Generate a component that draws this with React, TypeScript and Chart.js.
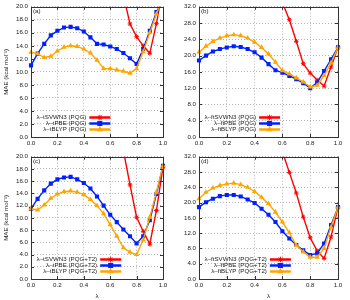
import React, { useEffect, useRef } from "react";
import { Chart, registerables } from "chart.js";

Chart.register(...registerables);

const FONT = "'Liberation Sans', Arial, sans-serif";
const FS = 6.2;

const lambdas = [0, 0.05, 0.1, 0.15, 0.2, 0.25, 0.3, 0.35, 0.4, 0.45, 0.5, 0.55, 0.6, 0.65, 0.7, 0.75, 0.8, 0.85, 0.9, 0.95, 1.0];
const xTicks = [0, 0.2, 0.4, 0.6, 0.8, 1.0];
const yTicks20 = [0, 2, 4, 6, 8, 10, 12, 14, 16, 18, 20];
const yTicks32 = [0, 4, 8, 12, 16, 20, 24, 28, 32];

// (a) PQG, tuned hybrids
const aSVWN3 = [null, null, null, null, null, null, null, null, null, null, null, null, null, 28.0, 21.8, 17.35, 15.4, 14.0, 12.85, 17.4, 23.0];
const aPBE = [11.0, 12.8, 14.3, 15.6, 16.3, 16.8, 16.9, 16.7, 16.2, 15.3, 14.3, 14.2, 13.9, 13.5, 12.9, 12.1, 11.2, 13.5, 16.3, 19.2, 21.0];
const aBLYP = [13.0, 12.8, 12.2, 12.4, 13.2, 13.8, 14.0, 13.9, 13.5, 12.9, 11.8, 10.5, 10.5, 10.3, 10.1, 9.8, 10.5, 13.1, 16.0, 18.9, 21.5];

// (b) PQG, fully tuned
const bSVWN3 = [null, null, null, null, null, null, null, null, null, null, null, 38.0, 33.0, 28.8, 23.5, 18.0, 15.7, 14.0, 12.5, 17.2, 22.1];
const bPBE = [18.8, 20.0, 21.0, 21.6, 22.0, 22.3, 22.1, 21.6, 20.8, 19.5, 17.9, 16.4, 15.8, 15.0, 14.2, 13.2, 12.0, 13.4, 16.2, 19.1, 22.0];
const bBLYP = [20.8, 22.3, 23.5, 24.3, 24.9, 25.1, 24.9, 24.3, 23.3, 22.0, 20.4, 18.4, 16.3, 15.5, 14.5, 13.5, 12.3, 12.7, 15.1, 18.2, 22.0];

// (c) PQG+T2, tuned hybrids
const cSVWN3 = [null, null, null, null, null, null, null, null, null, null, null, null, null, 27.0, 21.0, 15.4, 10.1, 7.8, 5.7, 11.2, 18.3];
const cPBE = [11.5, 13.1, 14.5, 15.6, 16.3, 16.6, 16.7, 16.3, 15.7, 14.8, 13.5, 12.0, 10.5, 9.3, 8.1, 7.0, 5.8, 7.0, 9.6, 13.9, 18.5];
const cBLYP = [11.5, 11.3, 12.1, 13.2, 13.9, 14.3, 14.4, 14.2, 13.8, 13.0, 12.0, 10.7, 8.9, 7.0, 5.1, 4.4, 4.0, 6.4, 10.1, 14.2, 18.5];

// (d) PQG+T2, fully tuned
const dSVWN3 = [null, null, null, null, null, null, null, null, null, null, null, 38.0, 33.3, 27.9, 22.5, 16.2, 10.8, 7.4, 5.4, 11.0, 18.8];
const dPBE = [18.8, 20.1, 21.0, 21.7, 22.0, 22.0, 21.6, 20.8, 19.9, 18.4, 16.8, 14.9, 12.5, 10.6, 8.9, 7.5, 6.3, 6.7, 9.3, 14.1, 18.8];
const dBLYP = [21.0, 22.7, 23.8, 24.5, 24.9, 25.1, 24.7, 24.0, 22.9, 21.4, 19.7, 17.5, 14.9, 12.1, 8.8, 7.1, 5.7, 5.7, 8.0, 13.6, 18.8];

const namesA = ["λ–tSVWN3 (PQG)", "λ–tPBE (PQG)", "λ–tBLYP (PQG)"];
const namesB = ["λ–ftSVWN3 (PQG)", "λ–ftPBE (PQG)", "λ–ftBLYP (PQG)"];
const namesC = ["λ–tSVWN3 (PQG+T2)", "λ–tPBE (PQG+T2)", "λ–tBLYP (PQG+T2)"];
const namesD = ["λ–ftSVWN3 (PQG+T2)", "λ–ftPBE (PQG+T2)", "λ–ftBLYP (PQG+T2)"];

const RED = "#ff0000";
const BLUE = "#0020ff";
const ORANGE = "#ffa500";

const panels = [
  { label: "(a)", left: 0, top: 0, yMax: 20, yTicks: yTicks20, yW: 31, xH: 13, yTitle: true, xTitle: false, names: namesA, series: [aSVWN3, aPBE, aBLYP] },
  { label: "(b)", left: 175, top: 0, yMax: 32, yTicks: yTicks32, yW: 24, xH: 13, yTitle: false, xTitle: false, names: namesB, series: [bSVWN3, bPBE, bBLYP] },
  { label: "(c)", left: 0, top: 150, yMax: 20, yTicks: yTicks20, yW: 31, xH: 21, yTitle: true, xTitle: true, names: namesC, series: [cSVWN3, cPBE, cBLYP] },
  { label: "(d)", left: 175, top: 150, yMax: 32, yTicks: yTicks32, yW: 24, xH: 21, yTitle: false, xTitle: true, names: namesD, series: [dSVWN3, dPBE, dBLYP] },
];

function drawMarker(ctx: CanvasRenderingContext2D, style: string, x: number, y: number, r: number, color: string) {
  ctx.save();
  ctx.fillStyle = color;
  ctx.strokeStyle = color;
  ctx.lineWidth = 1;
  ctx.setLineDash([]);
  if (style === "rect") {
    const s = r * Math.SQRT2;
    ctx.fillRect(x - s / 2, y - s / 2, s, s);
  } else if (style === "triangle") {
    ctx.beginPath();
    ctx.moveTo(x, y - r);
    ctx.lineTo(x - r * 0.866, y + r / 2);
    ctx.lineTo(x + r * 0.866, y + r / 2);
    ctx.closePath();
    ctx.fill();
  } else {
    ctx.beginPath();
    ctx.moveTo(x - r, y);
    ctx.lineTo(x + r, y);
    ctx.moveTo(x, y - r);
    ctx.lineTo(x, y + r);
    const d = r * 0.707;
    ctx.moveTo(x - d, y - d);
    ctx.lineTo(x + d, y + d);
    ctx.moveTo(x - d, y + d);
    ctx.lineTo(x + d, y - d);
    ctx.stroke();
  }
  ctx.restore();
}

const decoPlugin = {
  id: "deco",
  afterDraw(chart: any, _args: any, opts: any) {
    const { ctx, chartArea: ca } = chart;
    const xs = chart.scales.x;
    const ys = chart.scales.y;
    ctx.save();
    // frame
    ctx.strokeStyle = "#333";
    ctx.lineWidth = 1;
    ctx.setLineDash([]);
    ctx.strokeRect(Math.round(ca.left) + 0.5, Math.round(ca.top) + 0.5, Math.round(ca.right - ca.left), Math.round(ca.bottom - ca.top));
    // inward ticks
    ctx.beginPath();
    xs.ticks.forEach((t: any) => {
      const px = Math.round(xs.getPixelForValue(t.value)) + 0.5;
      ctx.moveTo(px, ca.bottom);
      ctx.lineTo(px, ca.bottom - 3);
      ctx.moveTo(px, ca.top);
      ctx.lineTo(px, ca.top + 3);
    });
    ys.ticks.forEach((t: any) => {
      const py = Math.round(ys.getPixelForValue(t.value)) + 0.5;
      ctx.moveTo(ca.left, py);
      ctx.lineTo(ca.left + 3, py);
      ctx.moveTo(ca.right, py);
      ctx.lineTo(ca.right - 3, py);
    });
    ctx.stroke();
    // panel label
    ctx.font = `${FS}px ${FONT}`;
    ctx.fillStyle = "#222";
    ctx.textAlign = "left";
    ctx.textBaseline = "middle";
    ctx.fillText(opts.label, ca.left + 2, ca.top + 4.5);
    // legend
    const ds = chart.data.datasets;
    const maxW = Math.max(...ds.map((d: any) => ctx.measureText(d.label).width));
    const textRight = ca.left + 5.5 + maxW;
    const sx1 = textRight + 3;
    const sx2 = sx1 + 21;
    const n = ds.length;
    ds.forEach((d: any, i: number) => {
      const y = ca.bottom - 7.5 - (n - 1 - i) * 6;
      ctx.fillStyle = "#222";
      ctx.textAlign = "right";
      ctx.textBaseline = "middle";
      ctx.fillText(d.label, textRight, y);
      ctx.strokeStyle = d.borderColor;
      ctx.lineWidth = 2.5;
      ctx.beginPath();
      ctx.moveTo(sx1, y);
      ctx.lineTo(sx2, y);
      ctx.stroke();
      drawMarker(ctx, d.pointStyle, (sx1 + sx2) / 2, y, d.pointStyle === "star" ? 2.8 : 3.6, d.borderColor);
    });
    ctx.restore();
  },
};

function buildConfig(p: any): any {
  const styles = [
    { color: RED, point: "star", r: 2.3, bw: 1 },
    { color: BLUE, point: "rect", r: 2.9, bw: 0 },
    { color: ORANGE, point: "triangle", r: 3.1, bw: 0 },
  ];
  const datasets = p.series.map((vals: (number | null)[], i: number) => ({
    label: p.names[i],
    data: lambdas.map((x, j) => ({ x, y: vals[j] })),
    borderColor: styles[i].color,
    backgroundColor: styles[i].color,
    pointBackgroundColor: styles[i].color,
    pointBorderColor: styles[i].color,
    pointStyle: styles[i].point,
    pointRadius: styles[i].r,
    pointBorderWidth: styles[i].bw,
    borderWidth: 1.4,
    tension: 0,
    spanGaps: false,
    order: 2 - i,
    clip: { left: 4, right: 4, top: 0, bottom: 0 },
  }));
  return {
    type: "line",
    data: { datasets },
    options: {
      responsive: false,
      animation: false,
      devicePixelRatio: 1,
      events: [],
      layout: { padding: { left: 0, right: 12, top: 6, bottom: 0 } },
      plugins: {
        legend: { display: false },
        tooltip: { enabled: false },
        deco: { label: p.label },
      },
      scales: {
        x: {
          type: "linear",
          min: 0,
          max: 1,
          afterBuildTicks: (s: any) => {
            s.ticks = xTicks.map((v) => ({ value: v }));
          },
          afterFit: (s: any) => {
            s.height = p.xH;
          },
          ticks: {
            callback: (v: any) => Number(v).toFixed(1),
            padding: 3,
            color: "#222",
            font: { size: FS, family: FONT },
            maxRotation: 0,
            autoSkip: false,
          },
          grid: { color: "#b4b4b4", lineWidth: 1, drawTicks: false },
          border: { display: false, dash: [1, 2] },
          title: {
            display: p.xTitle,
            text: "λ",
            color: "#222",
            font: { size: FS, family: FONT },
            padding: { top: 0, bottom: 0 },
          },
        },
        y: {
          type: "linear",
          min: 0,
          max: p.yMax,
          afterBuildTicks: (s: any) => {
            s.ticks = p.yTicks.map((v: number) => ({ value: v }));
          },
          afterFit: (s: any) => {
            s.width = p.yW;
          },
          ticks: {
            callback: (v: any) => Number(v).toFixed(1),
            padding: 3,
            color: "#222",
            font: { size: FS, family: FONT },
            autoSkip: false,
          },
          grid: { color: "#b4b4b4", lineWidth: 1, drawTicks: false },
          border: { display: false, dash: [1, 2] },
          title: {
            display: p.yTitle,
            text: "MAE (kcal mol⁻¹)",
            color: "#222",
            font: { size: FS, family: FONT },
            padding: { top: 3, bottom: 0 },
          },
        },
      },
    },
    plugins: [decoPlugin],
  };
}

function Panel({ p }: { p: any }) {
  const ref = useRef<HTMLCanvasElement>(null);
  useEffect(() => {
    const chart = new Chart(ref.current as HTMLCanvasElement, buildConfig(p));
    return () => chart.destroy();
  }, [p]);
  return (
    <canvas
      ref={ref}
      width={175}
      height={150}
      style={{ position: "absolute", left: p.left, top: p.top, width: 175, height: 150 }}
    />
  );
}

export default function App() {
  return (
    <div style={{ position: "fixed", left: 0, top: 0, width: 350, height: 300, background: "#fff" }}>
      {panels.map((p) => (
        <Panel key={p.label} p={p} />
      ))}
    </div>
  );
}
